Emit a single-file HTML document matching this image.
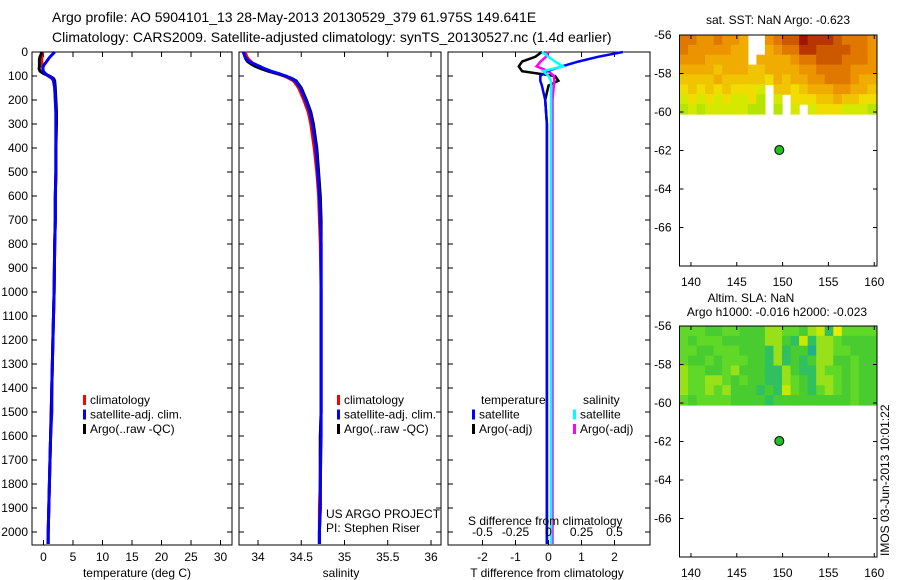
<!DOCTYPE html>
<html><head><meta charset="utf-8">
<style>
html,body{margin:0;padding:0;background:#fff;}
svg{display:block;font-family:"Liberation Sans",sans-serif;}
text{font-size:12px;fill:#000;}
</style></head>
<body>
<svg id="fig" width="900" height="580" viewBox="0 0 900 580" xmlns="http://www.w3.org/2000/svg">
<text x="52" y="22" style="font-size:14px">Argo profile: AO 5904101_13 28-May-2013 20130529_379 61.975S 149.641E</text>
<text x="52" y="42" style="font-size:14px">Climatology: CARS2009. Satellite-adjusted climatology: synTS_20130527.nc (1.4d earlier)</text>
<g id="g"></g>
</svg>
<script>
// ---- data ----
const depths=[0,10,20,30,40,50,60,70,80,90,100,110,120,150,200,250,300,400,500,600,700,800,1000,1200,1400,1500,1600,1800,1900,2000,2050];
const tempClim=[-0.2,-0.2,-0.25,-0.3,-0.3,-0.25,-0.2,-0.1,0.0,0.3,0.8,1.4,1.7,1.9,2.0,2.1,2.1,2.1,2.1,2.0,2.0,1.9,1.8,1.6,1.4,1.3,1.2,1.0,0.9,0.8,0.75];
const tempSat=[1.9,1.5,1.1,0.8,0.5,0.2,-0.05,-0.1,-0.1,0.3,0.9,1.5,1.7,1.9,2.0,2.1,2.1,2.1,2.1,2.0,2.0,1.9,1.8,1.6,1.4,1.4,1.2,1.0,0.9,0.8,0.8];
const tempArgo=[-0.3,-0.4,-0.6,-0.7,-0.7,-0.7,-0.7,-0.75,-0.6,0.0,1.0,1.7,1.9,2.0,2.1,2.2,2.2,2.1,2.1,2.0,2.0,1.9,1.8,1.6,1.4,1.3,1.2,1.0,0.9,0.8,0.8];
const salClim=[33.85,33.86,33.87,33.89,33.92,33.95,34.0,34.05,34.12,34.22,34.3,34.36,34.41,34.47,34.53,34.58,34.61,34.65,34.68,34.70,34.71,34.72,34.73,34.73,34.73,34.73,34.72,34.72,34.71,34.71,34.71];
const salSat=[33.83,33.84,33.85,33.87,33.9,33.96,34.02,34.08,34.15,34.24,34.32,34.38,34.43,34.49,34.55,34.6,34.63,34.67,34.69,34.71,34.72,34.73,34.73,34.73,34.73,34.73,34.73,34.72,34.72,34.71,34.71];
const salArgo=[33.83,33.84,33.85,33.86,33.88,33.92,33.97,34.04,34.12,34.22,34.32,34.39,34.44,34.5,34.56,34.61,34.64,34.68,34.7,34.72,34.73,34.73,34.73,34.73,34.73,34.73,34.72,34.72,34.72,34.71,34.71];
const diffDepths=[0,20,40,60,80,100,120,140,200,300,500,1000,1500,2050];
const dTsat=[2.25,1.5,0.9,0.4,-0.05,-0.25,-0.25,-0.2,-0.1,-0.05,-0.05,-0.05,-0.05,-0.05];
const dTargo=[-0.2,-0.4,-0.8,-0.9,-0.8,0.2,0.3,0.0,-0.1,-0.05,-0.05,-0.05,-0.05,-0.05];
const dSsat=[-0.05,0.0,0.05,0.11,-0.04,0.0,0.02,0.02,0.02,0.02,0.02,0.02,0.02,0.02];
const dSargo=[0,-0.02,-0.06,-0.09,0.0,0.04,0.045,0.04,0.03,0.03,0.03,0.03,0.03,0.03];
const depthTicks=[0,100,200,300,400,500,600,700,800,900,1000,1100,1200,1300,1400,1500,1600,1700,1800,1900,2000];
const tempTicks=[0,5,10,15,20,25,30];
const salTicks=[34,34.5,35,35.5,36];
const tdTicks=[-2,-1,0,1,2];
const sdTicks=["-0.5","-0.25","0","0.25","0.5"];
const sdTickVals=[-0.5,-0.25,0,0.25,0.5];
const lonTicks=[140,145,150,155,160];
const latTicks=[-56,-58,-60,-62,-64,-66];
// SST levels per row (lat -56 downward), 'x' = missing
const sstRows=[
"66556554xx5677988876665",
"65555544xx4566887777665",
"55544444x44445667776665",
"44443444334444556666555",
"33334333332434455666544",
"2323232221x332344455443",
"1212121120x1x2223343322",
"0101111100x0x1x12221110"];
const slaRows=[
"33322332224433245163333",
"32333222224421514432222",
"33223332221412204433222",
"32232333221412124422322",
"43322342221142114332322",
"43344323221143214432322",
"43343422212153213432322",
"32333322221222222222322"];
const argoLon=149.641, argoLat=-61.975;

const NS="http://www.w3.org/2000/svg";
const G=document.getElementById('g');
function el(tag,attrs,parent){const e=document.createElementNS(NS,tag);for(const k in attrs)e.setAttribute(k,attrs[k]);(parent||G).appendChild(e);return e;}
function txt(x,y,s,anchor,size){const t=el('text',{x:x,y:y,'text-anchor':anchor||'start'});if(size)t.style.fontSize=size+'px';t.textContent=s;return t;}

const PY0=52, PY1=545; const dy=d=>PY0+d*0.24;
function panel(name,x0,x1,xs,ticks,labels,tickFmt){
  const r=el('rect',{x:x0,y:PY0,width:x1-x0,height:PY1-PY0,fill:'none',stroke:'#000','stroke-width':1});
  
  
  depthTicks.forEach(d=>{const y=dy(d);el('line',{x1:x0,x2:x0+5,y1:y,y2:y,stroke:'#000'});el('line',{x1:x1-5,x2:x1,y1:y,y2:y,stroke:'#000'});});
  ticks.forEach((v,i)=>{const x=xs(v);el('line',{x1:x,x2:x,y1:PY0,y2:PY0+5,stroke:'#000'});el('line',{x1:x,x2:x,y1:PY1-5,y2:PY1,stroke:'#000'});
    if(labels){const t=txt(x,PY1+16,tickFmt?tickFmt(v):String(v),'middle');}});
}
function line(xs,vals,dep,color,name,w){
  const pts=vals.map((v,i)=>xs(v).toFixed(1)+','+dy(dep[i]).toFixed(1)).join(' ');
  const p=el('polyline',{points:pts,fill:'none',stroke:color,'stroke-width':w||3,'stroke-linejoin':'miter'});
  
  
}
depthTicks.forEach(d=>{const t=txt(28,dy(d)+4,String(d),'end');});

const xT=v=>43.5+v*5.9;
panel('temperature-panel',32,232,xT,tempTicks,true);
line(xT,tempClim,depths,'#f00','temp-climatology-line');
line(xT,tempArgo,depths,'#000','temp-argo-line');
line(xT,tempSat,depths,'#00f','temp-satellite-line');
const xS=v=>258+(v-34)*86.5;
panel('salinity-panel',239,441,xS,salTicks,true);
line(xS,salClim,depths,'#f00','sal-climatology-line');
line(xS,salArgo,depths,'#000','sal-argo-line');
line(xS,salSat,depths,'#00f','sal-satellite-line');
const xD=v=>548.5+v*33;
const xSD=v=>548.5+v*132;
panel('difference-panel',448,650,xD,tdTicks,true);
line(xD,dTargo,diffDepths,'#000','tdiff-argo-line',2.5);
line(xSD,dSargo,diffDepths,'#f0f','sdiff-argo-line',2.5);
line(xD,dTsat,diffDepths,'#00f','tdiff-satellite-line',2.5);
line(xSD,dSsat,diffDepths,'#0ff','sdiff-satellite-line',2.5);
sdTickVals.forEach((v,i)=>{const t=txt(xSD(v),536,sdTicks[i],'middle');});
txt(468,525,'S difference from climatology');
txt(137,577,'temperature (deg C)','middle');
txt(341,577,'salinity','middle');
txt(547,577,'T difference from climatology','middle');
txt(326,518,'US ARGO PROJECT');
txt(326,532,'PI: Stephen Riser');

function legend(x,y,items,prefix){items.forEach((it,i)=>{const r=el('rect',{x:x,y:y+i*14.5-9,width:3,height:10,fill:it[0]});
  
  const t=txt(x+7,y+i*14.5,it[1]);});}
legend(83,404,[['#f00','climatology'],['#00f','satellite-adj. clim.'],['#000','Argo(..raw -QC)']],'temp');
legend(337,404,[['#f00','climatology'],['#00f','satellite-adj. clim.'],['#000','Argo(..raw -QC)']],'sal');
txt(481,404,'temperature');
txt(583,404,'salinity');
legend(472,418.5,[['#00f','satellite'],['#000','Argo(-adj)']],'tdiff');
legend(573,418.5,[['#0ff','satellite'],['#f0f','Argo(-adj)']],'sdiff');

const sstCols=['#b4e400','#d4e800','#f0dc00','#f0c400','#f0ac00','#ec9400','#e07800','#cc5800','#b83400','#a01400'];
const slaCols=['#20b090','#30c060','#48cc30','#60d828','#98e018','#c8e800','#e8ec00'];
function map(name,top,rows,cols){
  const L=679.5,R=877,lon0=138.75,lon1=160.3;
  const lx=v=>L+(v-lon0)*(R-L)/(lon1-lon0);
  const ly=v=>top+(-56-v)*19.25;
  const nr=rows.length;
  rows.forEach((row,ri)=>{const nc=row.length;const cw=(876-L)/nc;const rh=(ly(-60.1)-top)/nr;
    for(let ci=0;ci<nc;ci++){const c=row[ci];if(c==='x')continue;
      const r=el('rect',{x:(L+ci*cw).toFixed(1),y:(top+ri*rh).toFixed(1),width:(cw+0.6).toFixed(1),height:(rh+0.6).toFixed(1),fill:cols[+c]});
      }});
  const f=el('rect',{x:L,y:top,width:R-L,height:231,fill:'none',stroke:'#000'});
  
  latTicks.forEach(v=>{const y=ly(v);el('line',{x1:L,x2:L+4,y1:y,y2:y,stroke:'#000'});el('line',{x1:R-4,x2:R,y1:y,y2:y,stroke:'#000'});
    const t=txt(L-8,y+4,String(v),'end');});
  lonTicks.forEach(v=>{const x=lx(v);el('line',{x1:x,x2:x,y1:top,y2:top+4,stroke:'#000'});el('line',{x1:x,x2:x,y1:top+227,y2:top+231,stroke:'#000'});
    const t=txt(x,top+251,String(v),'middle');});
  const d=el('circle',{cx:lx(argoLon),cy:ly(argoLat),r:4.5,fill:'#20c020',stroke:'#000','stroke-width':1});
  
}
map('sst-map',35,sstRows,sstCols);
map('sla-map',326,slaRows,slaCols);
txt(778,24,'sat. SST: NaN  Argo: -0.623','middle');
txt(751,302,'Altim. SLA: NaN','middle');
txt(777,316,'Argo h1000: -0.016 h2000: -0.023','middle');
const im=txt(0,0,'IMOS 03-Jun-2013 10:01:22','start');
im.setAttribute('transform','translate(889,556) rotate(-90)');


</script>
</body></html>
